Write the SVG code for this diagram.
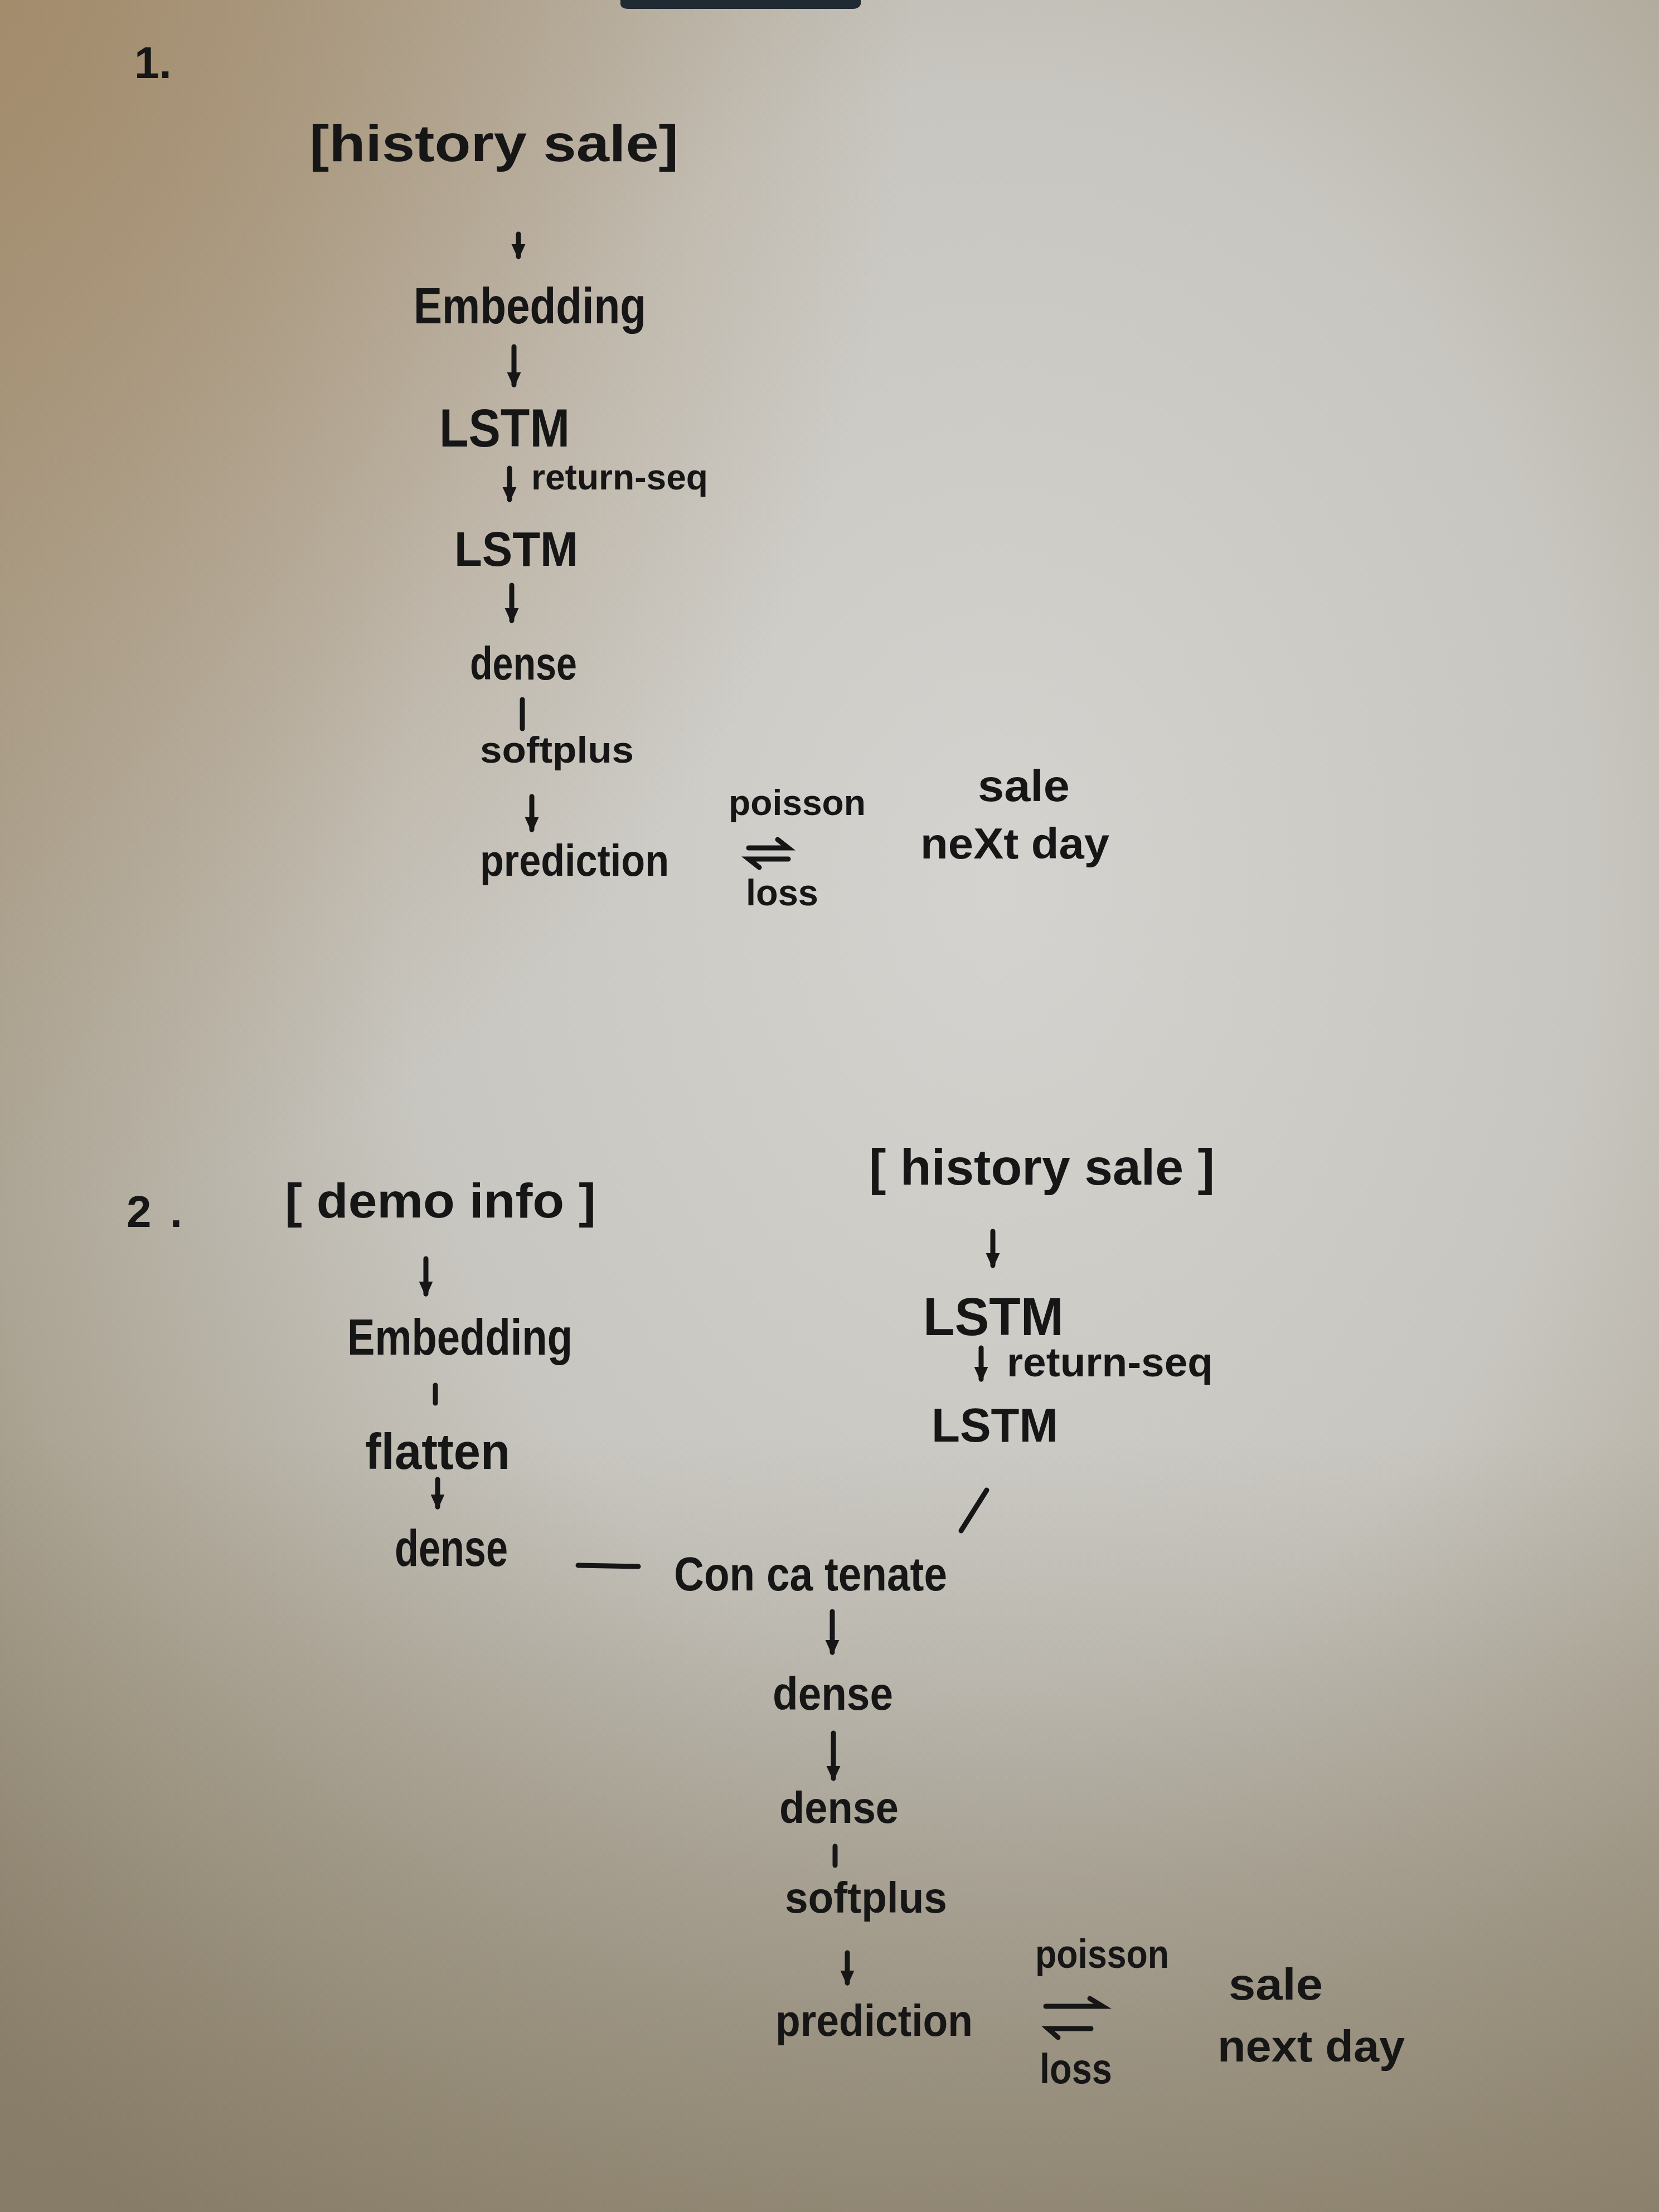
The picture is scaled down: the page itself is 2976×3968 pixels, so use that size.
<svg xmlns="http://www.w3.org/2000/svg" width="2976" height="3968" viewBox="0 0 2976 3968">
<defs>
<radialGradient id="bgR" cx="0.6" cy="0.4" r="0.8">
<stop offset="0" stop-color="#d4d3cf"/>
<stop offset="0.45" stop-color="#c8c6c0"/>
<stop offset="0.8" stop-color="#aaa291"/>
<stop offset="1" stop-color="#948a77"/>
</radialGradient>
<radialGradient id="tl" cx="0" cy="0" r="0.55">
<stop offset="0" stop-color="#a48a68" stop-opacity="0.85"/>
<stop offset="1" stop-color="#a48a68" stop-opacity="0"/>
</radialGradient>
<linearGradient id="bot" x1="0" y1="0" x2="0" y2="1">
<stop offset="0.65" stop-color="#7d725c" stop-opacity="0"/>
<stop offset="1" stop-color="#7d725c" stop-opacity="0.6"/>
</linearGradient>
<marker id="ah" viewBox="0 0 10 10" refX="8" refY="5" markerWidth="28" markerHeight="28" markerUnits="userSpaceOnUse" orient="auto">
<path d="M0,0.5 L10,5 L0,9.5 z" fill="#161616"/>
</marker>
<style>
.t { font-family: "Liberation Sans", Arial, sans-serif; font-weight: bold; fill: #161616; }
.c { stroke: #161616; stroke-width: 9; stroke-linecap: round; fill: none; }
.a { marker-end: url(#ah); }
</style>
</defs>
<g id="background">
<rect width="2976" height="3968" fill="url(#bgR)"/>
<rect width="2976" height="3968" fill="url(#tl)"/>
<rect width="2976" height="3968" fill="url(#bot)"/>
<path d="M1113,0 L1544,0 L1544,8 Q1540,16 1530,16 L1127,16 Q1115,16 1113,8 z" fill="#1f2a33"/>
</g>
<g id="connectors">
<line class="c a" x1="930" y1="420" x2="930" y2="460"/>
<line class="c a" x1="922" y1="622" x2="922" y2="690"/>
<line class="c a" x1="914" y1="840" x2="914" y2="896"/>
<line class="c a" x1="918" y1="1050" x2="918" y2="1113"/>
<line class="c" x1="937" y1="1255" x2="937" y2="1307"/>
<line class="c a" x1="954" y1="1429" x2="954" y2="1488"/>
<path class="c" d="M1343,1521 L1414,1521 L1395,1506"/>
<path class="c" d="M1414,1541 L1343,1541 L1362,1556"/>
<line class="c a" x1="764" y1="2258" x2="764" y2="2321"/>
<line class="c" x1="781" y1="2485" x2="781" y2="2517"/>
<line class="c a" x1="785" y1="2654" x2="785" y2="2703"/>
<line class="c" x1="1037" y1="2808" x2="1145" y2="2810"/>
<line class="c a" x1="1781" y1="2209" x2="1781" y2="2270"/>
<line class="c a" x1="1760" y1="2418" x2="1760" y2="2474"/>
<line class="c" x1="1770" y1="2673" x2="1724" y2="2746"/>
<line class="c a" x1="1493" y1="2891" x2="1493" y2="2964"/>
<line class="c a" x1="1495" y1="3109" x2="1495" y2="3190"/>
<line class="c" x1="1498" y1="3312" x2="1498" y2="3346"/>
<line class="c a" x1="1520" y1="3503" x2="1520" y2="3557"/>
<path class="c" d="M1876,3599 L1978,3599 L1955,3585"/>
<path class="c" d="M1957,3639 L1880,3639 L1898,3655"/>
</g>
<g id="d1-number"><text class="t" x="241" y="140" font-size="80">1.</text></g>
<g id="d1-history-sale"><text class="t" x="555" y="289" font-size="92" textLength="662" lengthAdjust="spacingAndGlyphs">[history sale]</text></g>
<g id="d1-embedding"><text class="t" x="742" y="580" font-size="90" textLength="417" lengthAdjust="spacingAndGlyphs">Embedding</text></g>
<g id="d1-lstm1"><text class="t" x="788" y="801" font-size="96" textLength="234" lengthAdjust="spacingAndGlyphs">LSTM</text></g>
<g id="d1-return-seq"><text class="t" x="953" y="878" font-size="64" textLength="317" lengthAdjust="spacingAndGlyphs">return-seq</text></g>
<g id="d1-lstm2"><text class="t" x="815" y="1015" font-size="88" textLength="222" lengthAdjust="spacingAndGlyphs">LSTM</text></g>
<g id="d1-dense"><text class="t" x="843" y="1219" font-size="84" textLength="192" lengthAdjust="spacingAndGlyphs">dense</text></g>
<g id="d1-softplus"><text class="t" x="861" y="1368" font-size="66" textLength="276" lengthAdjust="spacingAndGlyphs">softplus</text></g>
<g id="d1-prediction"><text class="t" x="861" y="1571" font-size="80" textLength="339" lengthAdjust="spacingAndGlyphs">prediction</text></g>
<g id="d1-poisson"><text class="t" x="1307" y="1462" font-size="64" textLength="246" lengthAdjust="spacingAndGlyphs">poisson</text></g>
<g id="d1-loss"><text class="t" x="1338" y="1624" font-size="66" textLength="130" lengthAdjust="spacingAndGlyphs">loss</text></g>
<g id="d1-sale"><text class="t" x="1754" y="1437" font-size="80" textLength="165" lengthAdjust="spacingAndGlyphs">sale</text></g>
<g id="d1-next-day"><text class="t" x="1651" y="1540" font-size="78" textLength="339" lengthAdjust="spacingAndGlyphs">neXt day</text></g>
<g id="d2-number"><text class="t" x="227" y="2201" font-size="80" textLength="100" lengthAdjust="spacing">2.</text></g>
<g id="d2-demo-info"><text class="t" x="511" y="2184" font-size="88" textLength="558" lengthAdjust="spacingAndGlyphs">[ demo info ]</text></g>
<g id="d2-embedding"><text class="t" x="623" y="2430" font-size="90" textLength="404" lengthAdjust="spacingAndGlyphs">Embedding</text></g>
<g id="d2-flatten"><text class="t" x="655" y="2635" font-size="90" textLength="260" lengthAdjust="spacingAndGlyphs">flatten</text></g>
<g id="d2-dense-left"><text class="t" x="708" y="2809" font-size="92" textLength="203" lengthAdjust="spacingAndGlyphs">dense</text></g>
<g id="d2-history-sale"><text class="t" x="1559" y="2125" font-size="90" textLength="620" lengthAdjust="spacingAndGlyphs">[ history sale ]</text></g>
<g id="d2-lstm1"><text class="t" x="1656" y="2395" font-size="96" textLength="252" lengthAdjust="spacingAndGlyphs">LSTM</text></g>
<g id="d2-return-seq"><text class="t" x="1806" y="2469" font-size="74" textLength="370" lengthAdjust="spacingAndGlyphs">return-seq</text></g>
<g id="d2-lstm2"><text class="t" x="1671" y="2586" font-size="86" textLength="227" lengthAdjust="spacingAndGlyphs">LSTM</text></g>
<g id="d2-concatenate"><text class="t" x="1209" y="2853" font-size="86" textLength="490" lengthAdjust="spacingAndGlyphs">Con ca tenate</text></g>
<g id="d2-dense1"><text class="t" x="1386" y="3067" font-size="84" textLength="216" lengthAdjust="spacingAndGlyphs">dense</text></g>
<g id="d2-dense2"><text class="t" x="1398" y="3270" font-size="80" textLength="214" lengthAdjust="spacingAndGlyphs">dense</text></g>
<g id="d2-softplus"><text class="t" x="1408" y="3431" font-size="78" textLength="291" lengthAdjust="spacingAndGlyphs">softplus</text></g>
<g id="d2-prediction"><text class="t" x="1391" y="3652" font-size="80" textLength="354" lengthAdjust="spacingAndGlyphs">prediction</text></g>
<g id="d2-poisson"><text class="t" x="1857" y="3530" font-size="72" textLength="240" lengthAdjust="spacingAndGlyphs">poisson</text></g>
<g id="d2-loss"><text class="t" x="1865" y="3737" font-size="76" textLength="130" lengthAdjust="spacingAndGlyphs">loss</text></g>
<g id="d2-sale"><text class="t" x="2204" y="3587" font-size="80" textLength="169" lengthAdjust="spacingAndGlyphs">sale</text></g>
<g id="d2-next-day"><text class="t" x="2184" y="3698" font-size="80" textLength="336" lengthAdjust="spacingAndGlyphs">next day</text></g>
</svg>
